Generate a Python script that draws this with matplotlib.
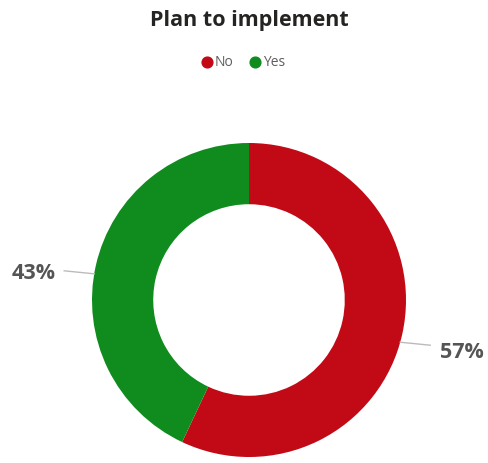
import numpy as np
import matplotlib
matplotlib.use("Agg")
import matplotlib.pyplot as plt

# data
labels = ["No", "Yes"]
values = [57, 43]
colors = ["#C10A16", "#108C1F"]

W, H = 488, 463
fig = plt.figure(figsize=(W / 100, H / 100), dpi=100)
ax = fig.add_axes([0, 0, 1, 1])

cx, cy, R = 249, 163, 157
wedges, _ = ax.pie(values, colors=colors, startangle=90, counterclock=False,
                   center=(cx, cy), radius=R,
                   wedgeprops=dict(width=R * 0.39, edgecolor="none"))
ax.set_xlim(0, W)
ax.set_ylim(0, H)
ax.set_aspect("equal")
ax.axis("off")

# leader lines and percent labels
for w, v in zip(wedges, values):
    mid = np.deg2rad((w.theta1 + w.theta2) / 2)
    side = 1 if np.cos(mid) > 0 else -1
    ang = mid - np.deg2rad(3) * side
    x0 = cx + R * np.cos(ang)
    y0 = cy + R * np.sin(ang)
    x1 = x0 + side * 30
    y1 = y0 - side * 3
    ax.plot([x0, x1], [y0, y1], color="#BBBBBB", lw=1)
    gap = 10 if side > 0 else 9
    dy = -7 if side > 0 else -3
    ax.text(x1 + side * gap, y1 + dy, "%d%%" % v, ha="left" if side > 0 else "right",
            va="center", fontsize=15.5, fontweight="bold", color="#555555",
            family="Open Sans")

fig.text(0.51, 0.955, "Plan to implement", ha="center", va="center",
         fontsize=15.5, fontweight="bold", color="#252423", family="Open Sans")

# legend
lx = [207, 255]
for x, lab, c in zip(lx, labels, colors):
    ax.scatter([x], [H - 62], s=60, color=c, zorder=3)
    ax.text(x + 8, H - 62, lab, ha="left", va="center", fontsize=10,
            color="#605E5C", family="Open Sans")

fig.savefig("out.png", dpi=100)
